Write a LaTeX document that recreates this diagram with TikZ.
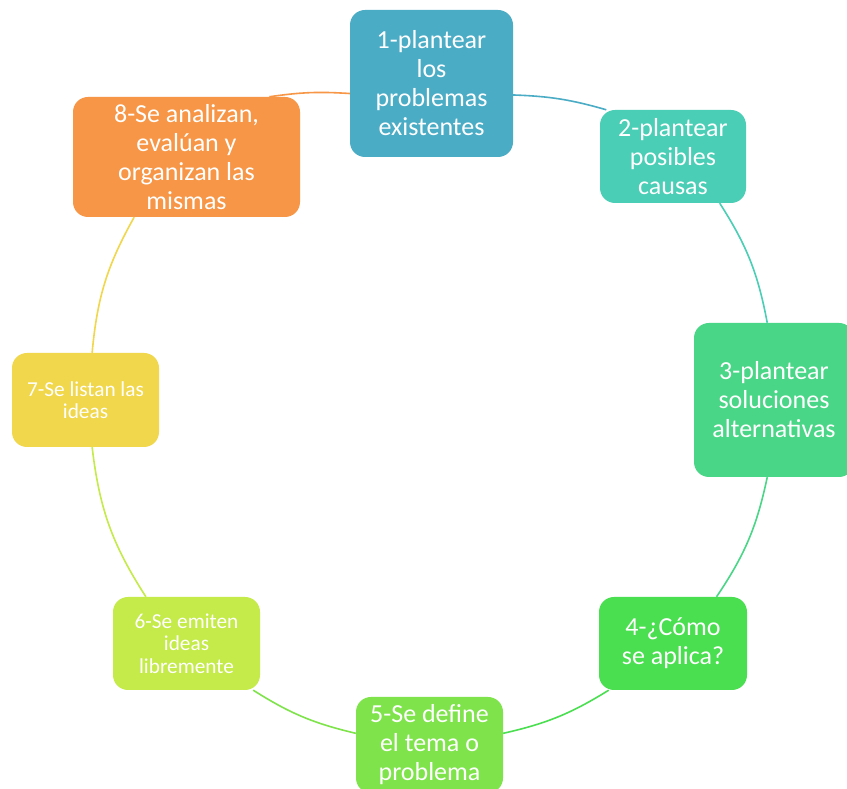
\documentclass[tikz,border=0pt]{standalone}
\usepackage{fontspec}
\setmainfont{Carlito}
\definecolor{cA}{HTML}{4BACC6}
\definecolor{cB}{HTML}{4ACEB5}
\definecolor{cC}{HTML}{4AD687}
\definecolor{cD}{HTML}{4ADF50}
\definecolor{cE}{HTML}{7FE34B}
\definecolor{cF}{HTML}{C4EB49}
\definecolor{cG}{HTML}{F1D74B}
\definecolor{cH}{HTML}{F79646}
\begin{document}
\begin{tikzpicture}[x=1pt,y=1pt,
  stepbox/.style={rectangle, rounded corners=15pt, text=white, align=center,
    inner sep=0pt, font=\fontsize{26}{29}\selectfont},
  smallbox/.style={stepbox, font=\fontsize{21.3}{22.5}\selectfont},
  link/.style={line width=1.6pt},
]
\clip (0,0) rectangle (847,789);
\fill[white] (0,0) rectangle (847,789);

% the eight steps of the cycle
\node[stepbox, fill=cA, minimum width=163pt, minimum height=147pt] (n1) at (431.5,705.5)
  {1-plantear\\los\\problemas\\existentes};
\node[stepbox, fill=cB, minimum width=146pt, minimum height=93pt] (n2) at (673,632.5)
  {2-plantear\\posibles\\causas};
\node[stepbox, fill=cC, minimum width=160pt, minimum height=154pt] (n3) at (774,389)
  {3-plantear\\soluciones\\alternativas};
\node[stepbox, fill=cD, minimum width=148pt, minimum height=93pt] (n4) at (673,145.5)
  {4-¿Cómo\\se aplica?};
\node[stepbox, fill=cE, minimum width=147pt, minimum height=96pt] (n5) at (429.5,44)
  {5-Se define\\el tema o\\problema};
\node[smallbox, fill=cF, minimum width=147pt, minimum height=93pt] (n6) at (186.5,145.5)
  {6-Se emiten\\ideas\\libremente};
\node[smallbox, fill=cG, minimum width=147pt, minimum height=94pt] (n7) at (85.5,389)
  {7-Se listan las\\ideas};
\node[stepbox, fill=cH, minimum width=227pt, minimum height=120pt] (n8) at (186.5,632)
  {8-Se analizan,\\evalúan y\\organizan las\\mismas};

% arcs joining consecutive steps, clockwise
\draw[link, cA] (n1.-8)  to[bend left=7]  (n2.145);
\draw[link, cB] (n2.-45) to[bend left=11] (n3.95);
\draw[link, cC] (n3.265) to[bend left=11] (n4.47);
\draw[link, cD] (n4.216) to[bend left=9.5] (n5.9);
\draw[link, cE] (n5.171) to[bend left=9.5] (n6.-35);
\draw[link, cF] (n6.131) to[bend left=13] (n7.-82);
\draw[link, cG] (n7.82)  to[bend left=12] (n8.229);
\draw[link, cH] (n8.36)  to[bend left=6]  (n1.187);
\end{tikzpicture}
\end{document}
